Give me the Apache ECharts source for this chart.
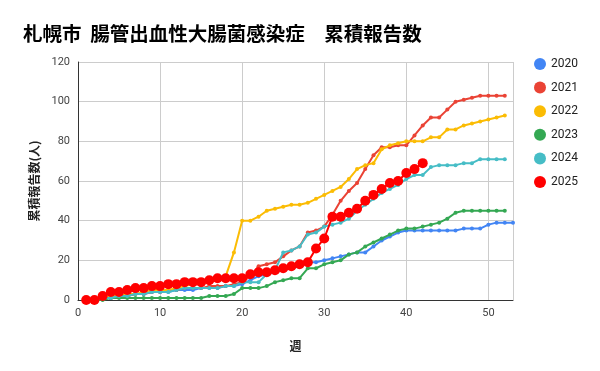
<!DOCTYPE html>
<html>
<head>
<meta charset="utf-8">
<script src="https://cdn.jsdelivr.net/npm/echarts@6/dist/echarts.min.js"></script>
<style>
html,body{margin:0;padding:0;background:#fff;}
#chart{width:600px;height:371px;}
</style>
</head>
<body>
<div id="chart"></div>
<script>
var titleText = "札幌市  腸管出血性大腸菌感染症　累積報告数";
var yAxisName = "累積報告数(人)";
var xAxisName = "週";
var seriesNames = ["2020", "2021", "2022", "2023", "2024", "2025"];
var colors = ["#4285F4", "#EA4335", "#FBBC04", "#34A853", "#46BDC6", "#FF0000"];

var y2020 = [0,0,1,1,2,2,3,3,4,4,4,5,5,5,6,6,6,7,7,8,10,12,13,14,15,16,17,19,19,20,21,22,23,24,24,27,30,32,34,35,35,35,35,35,35,35,36,36,36,38,39,39,39];
var y2021 = [0,0,1,1,2,2,3,3,4,4,5,5,6,6,6,7,7,7,8,9,12,17,18,19,22,25,27,34,35,37,43,50,55,59,66,73,77,77,78,78,83,88,92,92,96,100,101,102,103,103,103,103];
var y2022 = [0,1,1,2,2,3,3,4,5,5,5,6,7,8,9,10,11,12,24,40,40,42,45,46,47,48,48,49,51,53,55,57,61,66,68,69,76,78,79,80,80,80,82,82,86,86,88,89,90,91,92,93];
var y2023 = [0,0,0,1,1,1,1,1,1,1,1,1,1,1,1,2,2,2,3,6,6,6,7,9,10,11,11,16,16,18,19,20,23,24,27,29,31,33,35,36,36,37,38,39,41,44,45,45,45,45,45,45];
var y2024 = [0,0,1,1,2,2,3,3,4,4,4,5,6,6,6,6,6,7,7,9,9,9,13,15,24,25,27,33,34,37,38,39,41,45,48,51,54,56,58,61,63,63,67,68,68,68,69,69,71,71,71,71];
var y2025 = [0,0,2,4,4,5,6,6,7,7,8,8,9,9,9,10,11,11,11,11,13,14,14,15,16,17,18,19,26,31,42,42,44,46,50,53,56,59,60,64,66,69];
var allValues = [y2020, y2021, y2022, y2023, y2024, y2025];

function toPairs(arr) {
  return arr.map(function (v, i) { return [i + 1, v]; });
}

var chart = echarts.init(document.getElementById('chart'));
var series = seriesNames.map(function (name, k) {
  var isLast = k === seriesNames.length - 1;
  return {
    name: name,
    type: 'line',
    data: toPairs(allValues[k]),
    symbol: 'circle',
    symbolSize: isLast ? 10 : 4,
    showSymbol: true,
    lineStyle: { width: 2, color: colors[k] },
    itemStyle: { color: colors[k] },
    z: 2 + k,
    animation: false
  };
});

chart.setOption({
  animation: false,
  color: colors,
  title: {
    text: titleText,
    left: 18,
    top: 19,
    textStyle: { fontFamily: 'Noto Sans CJK JP', fontSize: 19.5, fontWeight: 'bold', color: '#000' }
  },
  legend: {
    orient: 'vertical',
    left: 529,
    top: 53,
    icon: 'circle',
    itemWidth: 12,
    itemHeight: 12,
    itemGap: 11.6,
    data: seriesNames,
    textStyle: { fontFamily: 'Roboto, Arial, sans-serif', fontSize: 12, color: '#222' }
  },
  grid: { left: 78, right: 87, top: 62, bottom: 71, containLabel: false },
  xAxis: {
    type: 'value',
    min: 0,
    max: 53,
    interval: 10,
    name: xAxisName,
    nameLocation: 'middle',
    nameGap: 40,
    nameTextStyle: { fontFamily: 'Noto Sans CJK JP', fontSize: 12, fontWeight: 'bold', color: '#222' },
    axisLine: { show: true, lineStyle: { color: '#333', width: 1 } },
    axisTick: { show: false },
    axisLabel: { fontFamily: 'Roboto, Arial, sans-serif', fontSize: 11, color: '#444', margin: 8, showMaxLabel: false },
    splitLine: { show: true, lineStyle: { color: '#ccc', width: 1 } }
  },
  yAxis: {
    type: 'value',
    min: 0,
    max: 120,
    interval: 20,
    name: yAxisName,
    nameLocation: 'middle',
    nameGap: 21,
    nameTextStyle: { fontFamily: 'Noto Sans CJK JP', fontSize: 12, fontWeight: 'bold', color: '#222' },
    axisLine: { show: true, lineStyle: { color: '#333', width: 1 } },
    axisTick: { show: false },
    axisLabel: { fontFamily: 'Roboto, Arial, sans-serif', fontSize: 11, color: '#444', margin: 8 },
    splitLine: { show: true, lineStyle: { color: '#ccc', width: 1 } }
  },
  series: series
});
</script>
</body>
</html>
